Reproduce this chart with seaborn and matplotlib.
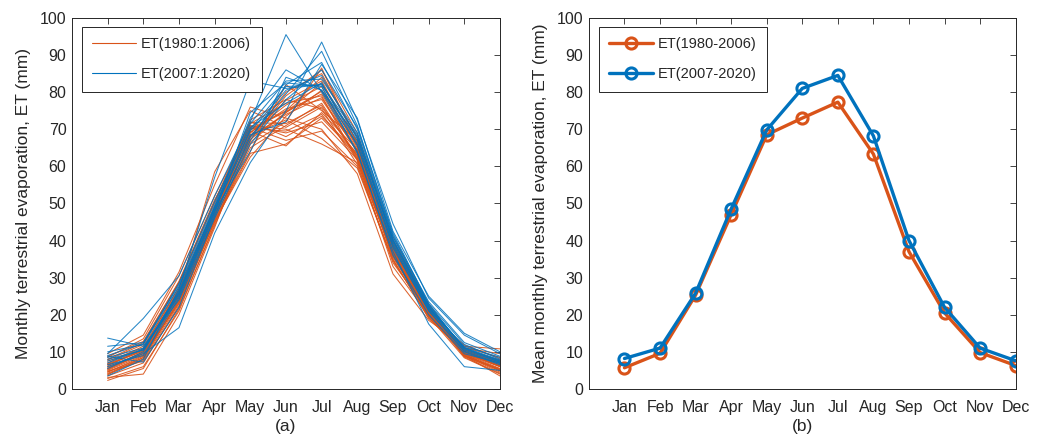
import numpy as np
import pandas as pd
import matplotlib
matplotlib.use('Agg')
import matplotlib.pyplot as plt
from matplotlib.lines import Line2D
import seaborn as sns

months = ['Jan', 'Feb', 'Mar', 'Apr', 'May', 'Jun', 'Jul', 'Aug', 'Sep', 'Oct', 'Nov', 'Dec']

# yearly ET curves, 1980-2006 (approximate)
et_early = [
    [4.2, 8.1, 24.0, 46.5, 70.2, 69.5, 74.0, 62.0, 35.5, 20.1, 9.2, 5.1],
    [6.5, 10.3, 26.8, 48.2, 67.3, 74.5, 80.2, 64.5, 38.0, 21.0, 10.5, 7.0],
    [2.3, 5.5, 21.5, 44.0, 66.0, 72.0, 86.5, 66.0, 36.2, 19.5, 8.4, 4.0],
    [7.8, 12.0, 28.5, 50.5, 72.5, 78.0, 75.5, 60.5, 34.0, 20.8, 11.2, 8.5],
    [5.0, 9.0, 23.2, 45.0, 63.5, 66.0, 73.0, 63.0, 37.5, 21.5, 10.0, 6.0],
    [3.1, 4.0, 20.0, 43.5, 69.0, 76.5, 81.5, 65.0, 39.0, 22.0, 9.5, 5.5],
    [8.5, 13.5, 30.5, 52.0, 71.0, 70.0, 66.0, 61.0, 36.0, 20.0, 10.8, 7.5],
    [6.0, 9.8, 25.5, 47.0, 68.0, 74.0, 78.5, 64.0, 38.5, 21.2, 9.8, 6.2],
    [4.8, 7.5, 22.0, 45.5, 64.0, 82.0, 75.0, 67.0, 37.0, 20.5, 9.0, 4.5],
    [9.5, 14.5, 31.5, 55.0, 76.0, 73.0, 70.0, 58.0, 31.0, 18.5, 11.5, 10.8],
    [5.5, 10.0, 26.0, 48.0, 70.0, 75.0, 84.0, 68.0, 40.0, 23.0, 10.2, 6.8],
    [3.8, 8.5, 24.5, 46.0, 65.0, 71.0, 77.0, 62.5, 36.5, 20.0, 8.8, 5.0],
    [7.0, 11.5, 27.0, 49.0, 72.0, 68.0, 73.5, 63.5, 35.0, 19.0, 10.0, 7.2],
    [2.8, 6.0, 21.0, 44.5, 67.0, 79.0, 86.0, 69.0, 41.0, 22.5, 9.0, 3.5],
    [6.8, 10.5, 25.0, 47.5, 69.5, 65.5, 74.5, 64.5, 37.5, 21.0, 10.5, 6.5],
    [5.2, 9.5, 24.8, 46.8, 71.5, 77.0, 79.0, 61.5, 33.0, 19.8, 9.5, 6.0],
    [8.0, 12.5, 29.0, 51.0, 68.5, 72.5, 67.5, 59.5, 34.5, 20.2, 11.0, 9.5],
    [4.5, 8.8, 23.5, 45.8, 66.5, 74.5, 82.5, 66.5, 39.5, 21.8, 9.2, 5.2],
    [6.2, 10.8, 26.5, 58.5, 75.0, 70.5, 76.0, 63.0, 36.8, 20.6, 10.1, 6.6],
    [3.5, 7.0, 22.5, 45.2, 62.5, 73.5, 80.5, 65.5, 38.2, 21.4, 8.6, 4.2],
    [7.5, 11.0, 27.5, 48.8, 70.8, 69.0, 72.0, 61.8, 35.8, 19.6, 10.6, 7.8],
    [5.8, 9.2, 25.2, 47.2, 69.2, 75.5, 78.0, 64.2, 37.8, 21.6, 9.9, 6.3],
    [4.0, 7.8, 23.0, 46.2, 67.8, 80.0, 85.0, 67.5, 39.8, 22.2, 9.4, 4.8],
    [6.6, 10.2, 26.2, 48.5, 70.5, 67.0, 69.5, 60.0, 34.8, 19.2, 10.4, 7.4],
    [5.4, 9.6, 25.8, 47.8, 69.8, 74.8, 79.5, 63.8, 37.2, 20.9, 9.7, 6.1],
    [8.8, 12.8, 28.8, 50.0, 71.8, 71.5, 76.5, 62.2, 36.4, 20.3, 11.8, 8.2],
    [4.6, 8.4, 23.8, 46.6, 68.2, 77.8, 83.0, 65.8, 38.8, 21.9, 8.9, 5.4],
]

# yearly ET curves, 2007-2020
et_late = [
    [7.5, 10.5, 25.5, 48.0, 70.0, 81.5, 82.0, 68.5, 40.5, 22.5, 11.0, 7.5],
    [13.7, 11.5, 24.0, 46.0, 66.0, 78.0, 86.0, 70.5, 42.0, 23.0, 12.0, 8.0],
    [3.5, 8.0, 27.0, 57.0, 83.0, 81.0, 82.0, 67.0, 38.5, 21.0, 10.0, 6.5],
    [9.5, 19.0, 30.5, 52.0, 72.0, 95.5, 80.0, 64.0, 36.0, 20.0, 9.5, 7.0],
    [6.0, 9.5, 16.5, 42.0, 61.0, 75.0, 93.5, 72.5, 44.5, 24.5, 14.5, 9.5],
    [11.5, 12.5, 28.0, 49.5, 73.0, 86.0, 80.5, 66.0, 39.0, 21.5, 11.5, 8.5],
    [8.8, 7.2, 22.0, 46.5, 68.0, 79.5, 91.0, 71.0, 41.5, 22.8, 10.8, 7.2],
    [5.5, 10.0, 26.5, 49.0, 71.5, 83.0, 83.5, 69.0, 40.0, 22.0, 11.2, 7.8],
    [10.0, 12.0, 27.5, 48.5, 68.5, 72.0, 87.5, 73.0, 42.5, 25.0, 15.0, 10.0],
    [7.0, 10.8, 25.0, 47.5, 74.5, 82.5, 81.5, 63.5, 37.0, 17.5, 6.0, 5.0],
    [8.5, 11.0, 26.0, 49.0, 69.5, 80.5, 84.5, 67.5, 40.2, 22.2, 11.0, 7.6],
    [6.5, 9.0, 24.5, 47.0, 67.0, 82.0, 88.0, 70.0, 41.0, 23.5, 12.5, 8.8],
    [9.0, 12.2, 28.5, 50.5, 70.5, 77.0, 82.5, 65.5, 38.0, 21.2, 10.2, 6.8],
    [8.0, 10.5, 25.8, 48.0, 64.0, 84.0, 80.5, 68.0, 39.5, 21.8, 10.5, 7.2],
]

# mean monthly ET (panel b)
mean_early = [5.7, 9.6, 25.3, 47.0, 68.5, 73.0, 77.3, 63.3, 37.0, 20.5, 9.8, 6.3]
mean_late = [8.2, 11.0, 25.8, 48.5, 69.8, 81.0, 84.5, 68.2, 40.0, 22.0, 11.0, 7.6]

orange = '#D95319'
blue = '#0072BD'

sns.set_style('white')
plt.rcParams['font.family'] = ['Liberation Sans', 'DejaVu Sans']

# long table for panel a
rows = []
for i, vals in enumerate(et_early):
    for m, v in enumerate(vals):
        rows.append({'year': 1980 + i, 'month': m + 1, 'et': v, 'period': 'early'})
for i, vals in enumerate(et_late):
    for m, v in enumerate(vals):
        rows.append({'year': 2007 + i, 'month': m + 1, 'et': v, 'period': 'late'})
df = pd.DataFrame(rows)

df_mean = pd.DataFrame({
    'month': list(range(1, 13)) * 2,
    'et': mean_early + mean_late,
    'period': ['ET(1980-2006)'] * 12 + ['ET(2007-2020)'] * 12,
})

fig = plt.figure(figsize=(10.46, 4.37), dpi=100)
ax1 = fig.add_axes([0.0688, 0.110, 0.4092, 0.849])
ax2 = fig.add_axes([0.563, 0.110, 0.408, 0.849])

leg_kw = dict(loc='upper left', bbox_to_anchor=(0.023, 0.976), borderaxespad=0,
              fontsize=10.5, labelspacing=1.1, borderpad=0.72, handletextpad=0.35,
              fancybox=False, framealpha=1)

# panel a: every year as a thin line
sns.lineplot(data=df[df.period == 'early'], x='month', y='et', units='year',
             estimator=None, color=orange, lw=0.75, alpha=0.9, ax=ax1, legend=False)
sns.lineplot(data=df[df.period == 'late'], x='month', y='et', units='year',
             estimator=None, color=blue, lw=0.75, alpha=0.85, ax=ax1, legend=False)
handles = [Line2D([], [], color=orange, lw=0.8), Line2D([], [], color=blue, lw=0.8)]
leg1 = ax1.legend(handles, ['ET(1980:1:2006)', 'ET(2007:1:2020)'], handlelength=3.0, **leg_kw)
ax1.set_ylabel('Monthly terrestrial evaporation, ET (mm)', fontsize=12.5, labelpad=6)
ax1.set_xlabel('(a)', fontsize=12.5, labelpad=3)

# panel b: means
sns.lineplot(data=df_mean, x='month', y='et', hue='period',
             palette=[orange, blue], lw=2.4, marker='o', markersize=8,
             markerfacecolor='none', markeredgewidth=2.2, ax=ax2, legend=False)
for ln, c in zip(ax2.lines, [orange, blue]):
    ln.set_markeredgecolor(c)
handles2 = [Line2D([], [], color=c, lw=2.4, marker='o', markersize=8,
                   markerfacecolor='none', markeredgewidth=2.2, markeredgecolor=c)
            for c in [orange, blue]]
leg2 = ax2.legend(handles2, ['ET(1980-2006)', 'ET(2007-2020)'], handlelength=3.0, **leg_kw)
ax2.set_ylabel('Mean monthly terrestrial evaporation, ET (mm)', fontsize=12.5, labelpad=6)
ax2.set_xlabel('(b)', fontsize=12.5, labelpad=3)

for ax, leg in [(ax1, leg1), (ax2, leg2)]:
    ax.set_xlim(0, 12)
    ax.set_ylim(0, 100)
    ax.set_xticks(range(1, 13))
    ax.set_xticklabels(months)
    ax.set_yticks(range(0, 101, 10))
    ax.tick_params(direction='in', top=True, right=True, labelsize=11.5,
                   colors='#262626', length=4, width=0.6, pad=8)
    ax.tick_params(axis='y', pad=4)
    for s in ax.spines.values():
        s.set_color('#262626')
        s.set_linewidth(0.7)
    leg.get_frame().set_edgecolor('#262626')
    leg.get_frame().set_linewidth(0.7)

fig.savefig('out.png', dpi=100)
